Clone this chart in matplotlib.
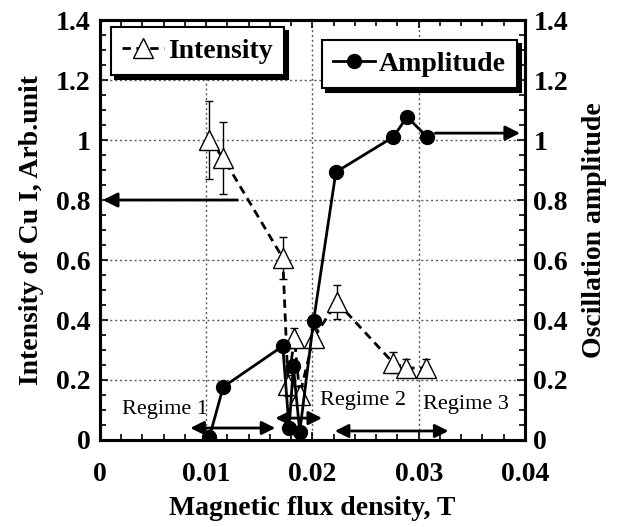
import matplotlib
matplotlib.use('Agg')
import matplotlib.pyplot as plt
from matplotlib.ticker import MultipleLocator

plt.rcParams['font.family'] = 'Liberation Serif'
plt.rcParams['font.weight'] = 'bold'
plt.rcParams['axes.labelweight'] = 'bold'

# ── data ─────────────────────────────────────────────────────────────────────
int_x   = [0.0103, 0.0116, 0.0172, 0.0177, 0.0183, 0.0188, 0.0201, 0.0223, 0.0276, 0.0288, 0.0307]
int_y   = [1.00, 0.94, 0.607, 0.183, 0.34, 0.15, 0.34, 0.46, 0.257, 0.24, 0.24]
int_err = [0.13, 0.12, 0.07, 0.035, 0.035, 0.03, 0.03, 0.056, 0.035, 0.03, 0.03]

amp_x = [0.0103, 0.0116, 0.0172, 0.0178, 0.0182, 0.0188, 0.0201, 0.0222, 0.0276, 0.0289, 0.0308]
amp_y = [0.01, 0.177, 0.313, 0.04, 0.245, 0.027, 0.397, 0.893, 1.01, 1.077, 1.01]

regime_names = ['Regime 1', 'Regime 2', 'Regime 3']
regime_spans = [(0.0085, 0.0165, 0.04), (0.0165, 0.0209, 0.073), (0.0221, 0.0328, 0.03)]
regime_text  = [(0.0021, 0.10), (0.0207, 0.13), (0.0304, 0.117)]

fig = plt.figure(figsize=(6.18, 5.27), dpi=100)
ax = fig.add_axes([0.1618, 0.1651, 0.6877, 0.7969])
ax2 = ax.twinx()

for a in (ax, ax2):
    a.set_xlim(0, 0.04)
    a.set_ylim(0, 1.4)
    for s in a.spines.values():
        s.set_linewidth(2.2)

ax.grid(True, which='major', linestyle=(0, (1.5, 2)), color='0.35', linewidth=1)

# intensity (left axis)
ax.errorbar(int_x, int_y, yerr=int_err, fmt='none', ecolor='black',
            elinewidth=1, capsize=3, capthick=1, zorder=3)
ln1, = ax.plot(int_x, int_y, linestyle=(0, (3, 2)), color='black', linewidth=2,
               marker='^', markersize=14, markerfacecolor='white',
               markeredgecolor='black', markeredgewidth=1, zorder=4,
               label='Intensity')

# amplitude (right axis)
ln2, = ax2.plot(amp_x, amp_y, '-', color='black', linewidth=2,
                marker='o', markersize=10, markerfacecolor='black', zorder=4,
                label='Amplitude')

# pointers to axes
ax.annotate('', xy=(0, 0.8), xytext=(0.0132, 0.8),
            arrowprops=dict(arrowstyle='-|>', color='black', lw=2, mutation_scale=22))
ax2.annotate('', xy=(0.0398, 1.023), xytext=(0.0313, 1.023),
             arrowprops=dict(arrowstyle='-|>', color='black', lw=2, mutation_scale=22))

# regimes
for name, (x0, x1, y), (tx, ty) in zip(regime_names, regime_spans, regime_text):
    ax.annotate('', xy=(x0, y), xytext=(x1, y),
                arrowprops=dict(arrowstyle='<|-|>', color='black', lw=2,
                                mutation_scale=20, shrinkA=0, shrinkB=0))
    ax.text(tx, ty, name, fontsize=16, fontweight='normal', va='center', ha='left', zorder=2)

# ticks
for a in (ax, ax2):
    a.xaxis.set_major_locator(MultipleLocator(0.01))
    a.xaxis.set_minor_locator(MultipleLocator(0.002))
    a.yaxis.set_major_locator(MultipleLocator(0.2))
    a.yaxis.set_minor_locator(MultipleLocator(0.05))
ax.tick_params(which='both', direction='in', top=True, labelsize=20, width=1.2)
ax.tick_params(which='major', length=6)
ax.tick_params(which='minor', length=4)
ax.tick_params(axis='y', pad=7)
ax.tick_params(axis='x', pad=16)
ax2.tick_params(which='both', direction='in', labelsize=20, width=1.2, pad=6)
ax2.tick_params(which='major', length=6)
ax2.tick_params(which='minor', length=4)

fmt = lambda v, p: '0' if abs(v) < 1e-9 else ('%g' % round(v, 3))
ax.xaxis.set_major_formatter(fmt)
ax.yaxis.set_major_formatter(fmt)
ax2.yaxis.set_major_formatter(fmt)

ax.set_xlabel('Magnetic flux density, T', fontsize=20, labelpad=6)
ax.set_ylabel('Intensity of Cu I, Arb.unit', fontsize=20, labelpad=8)
ax2.set_ylabel('Oscillation amplitude', fontsize=20, labelpad=10)

# legends
shadow = {'color': 'black', 'alpha': 1, 'ox': 3, 'oy': -3}
leg1 = ax2.legend(handles=[ln1], loc='upper left', bbox_to_anchor=(0.026, 0.983),
                  fancybox=False, shadow=shadow, edgecolor='black', framealpha=1,
                  fontsize=20, handlelength=1.5, handletextpad=0.15,
                  borderpad=0.4, borderaxespad=0)
leg1.get_frame().set_linewidth(1.5)
ax2.add_artist(leg1)
leg2 = ax2.legend(handles=[ln2], loc='upper right', bbox_to_anchor=(0.981, 0.952),
                  fancybox=False, shadow=shadow, edgecolor='black', framealpha=1,
                  fontsize=20, handlelength=1.5, handletextpad=0.15,
                  borderpad=0.4, borderaxespad=0)
leg2.get_frame().set_linewidth(1.5)

fig.savefig('out.png', dpi=100)
